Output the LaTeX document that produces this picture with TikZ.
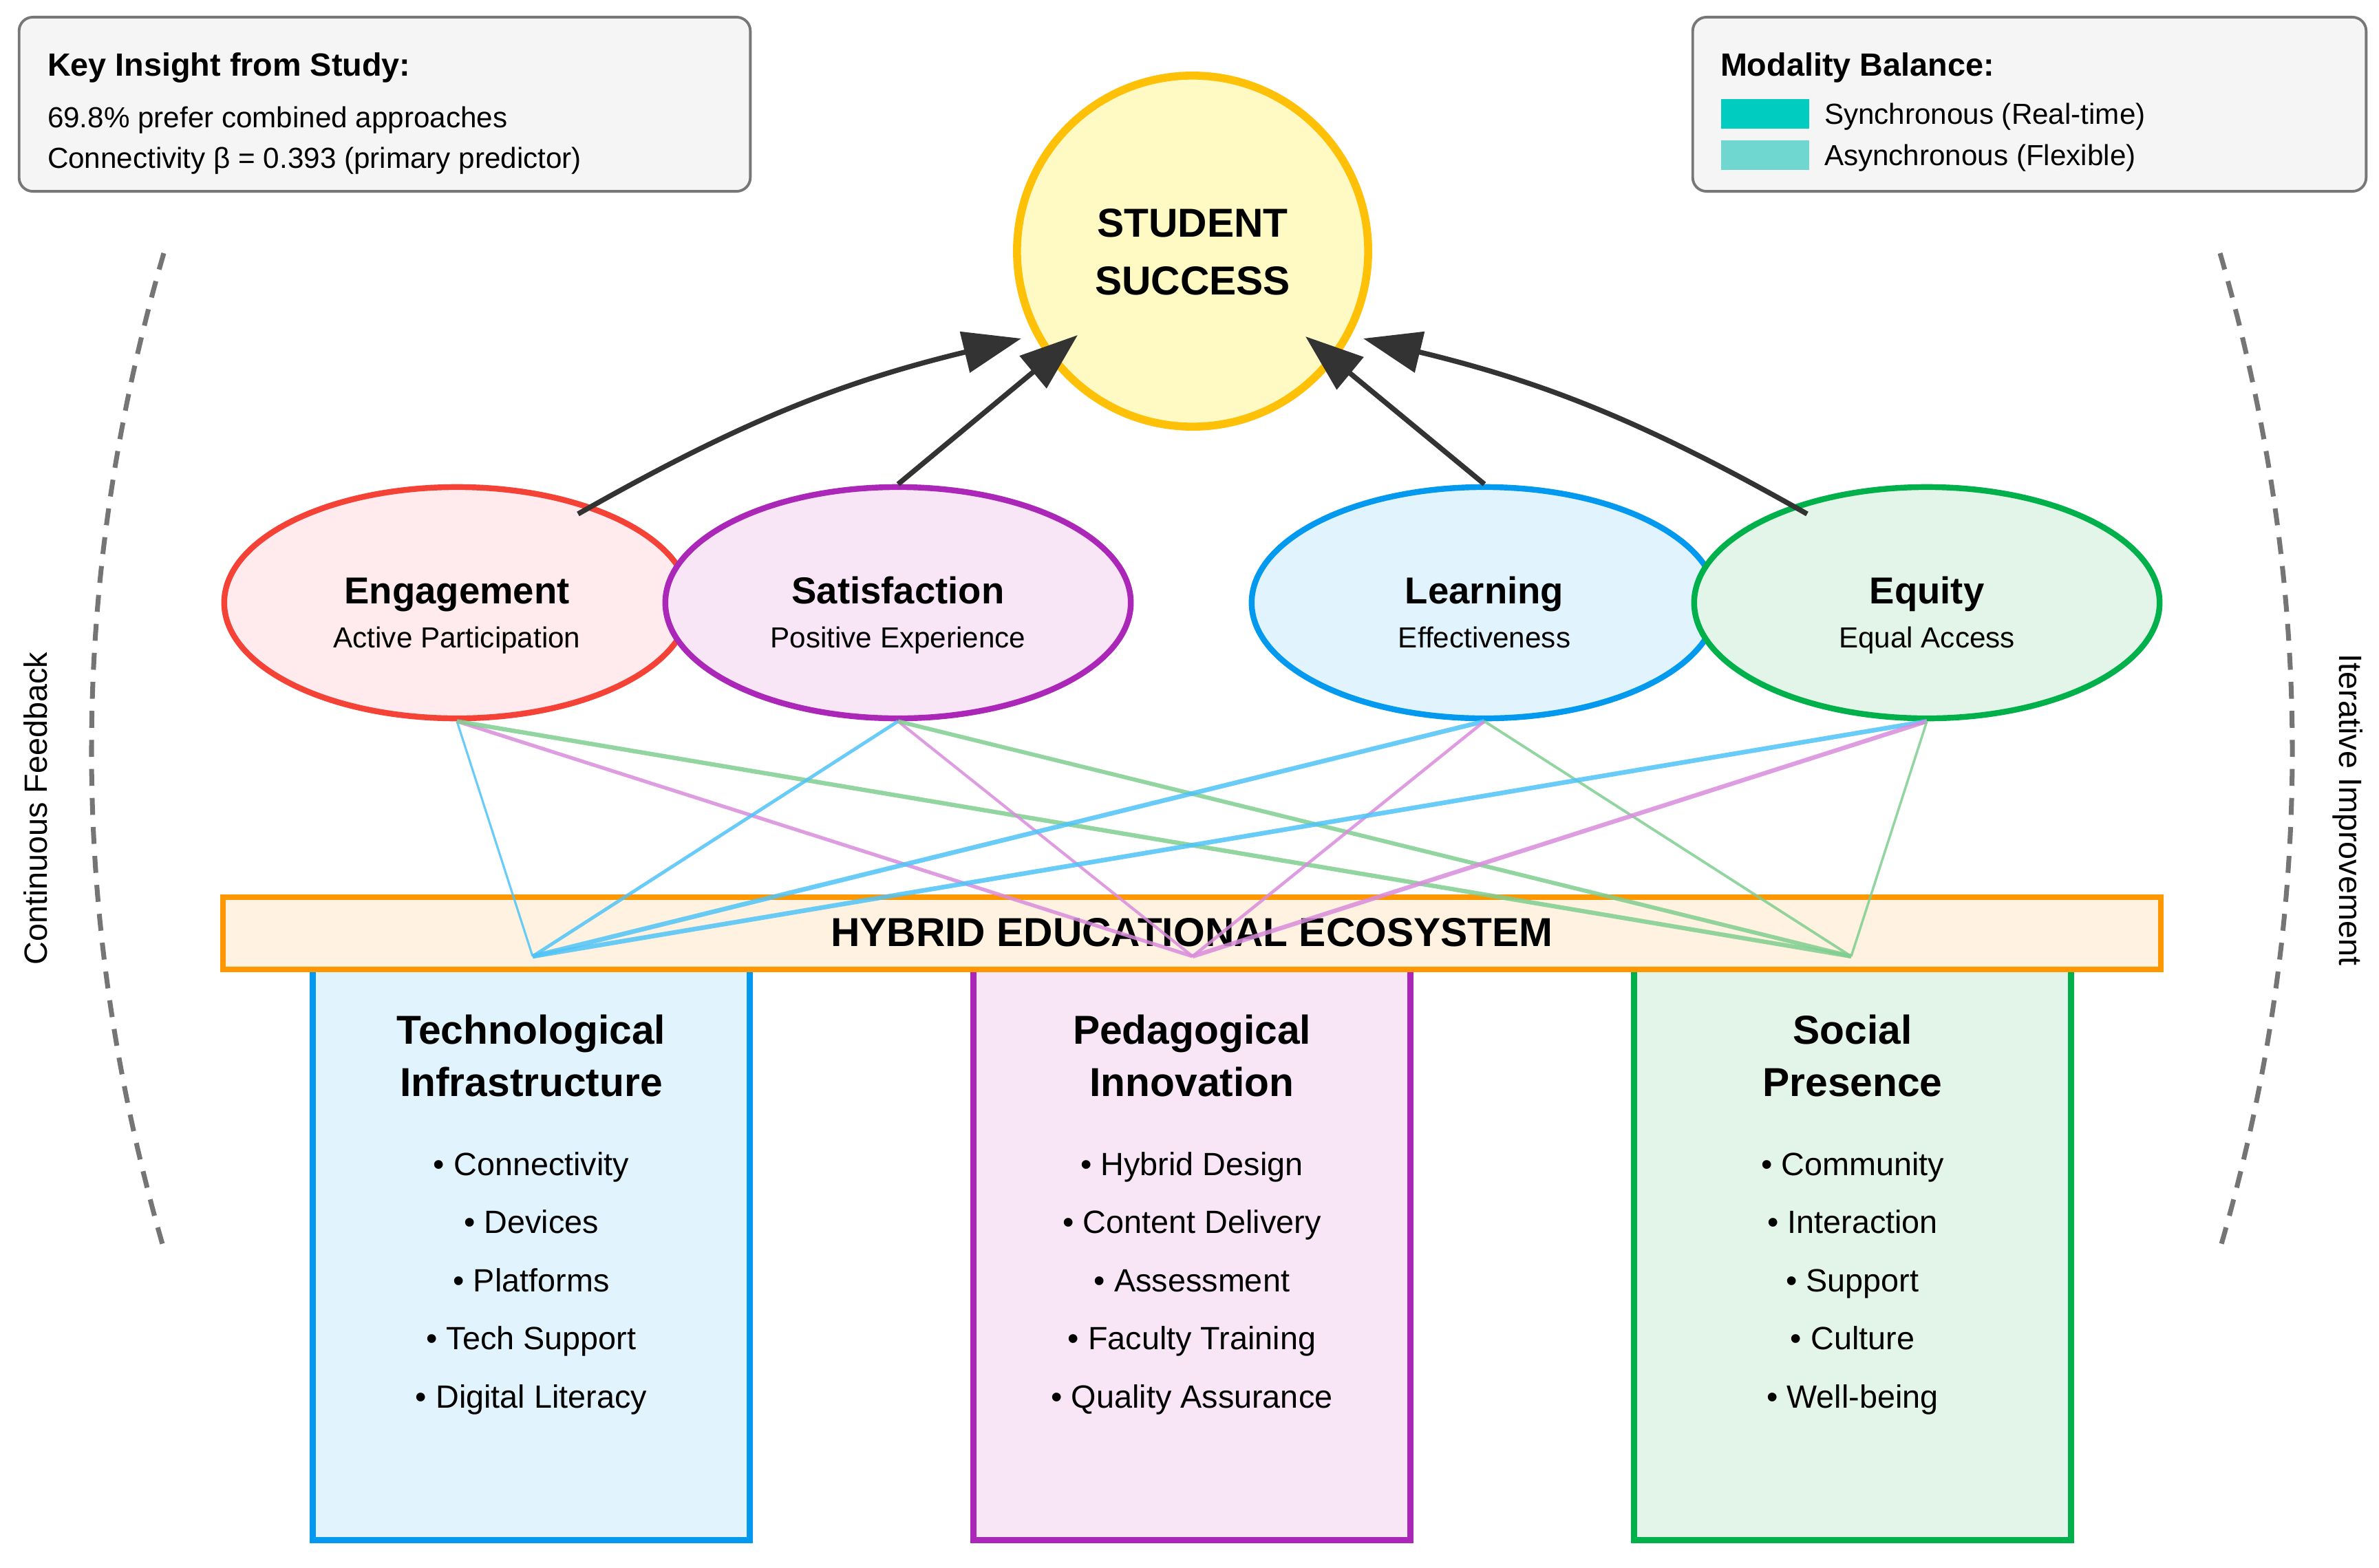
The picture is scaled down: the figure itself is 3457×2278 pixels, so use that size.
\documentclass[tikz,border=0pt]{standalone}
\usepackage{fontspec}
\setmainfont{Liberation Sans}
\usetikzlibrary{arrows.meta,shapes.geometric}
\definecolor{engB}{HTML}{F44336}
\definecolor{engF}{HTML}{FFEBEE}
\definecolor{satB}{HTML}{AB27B8}
\definecolor{satF}{HTML}{F8E6F6}
\definecolor{lrnB}{HTML}{0399EE}
\definecolor{lrnF}{HTML}{E1F3FC}
\definecolor{eqB}{HTML}{00B04A}
\definecolor{eqF}{HTML}{E3F5E8}
\definecolor{ssB}{HTML}{FFC107}
\definecolor{ssF}{HTML}{FFF9C4}
\definecolor{barB}{HTML}{FF9800}
\definecolor{barF}{HTML}{FFF2E0}
\definecolor{lnBlue}{HTML}{4FC3F7}
\definecolor{lnPink}{HTML}{D98BDC}
\definecolor{lnGreen}{HTML}{80CE90}
\definecolor{arr}{HTML}{333333}
\definecolor{boxF}{HTML}{F5F5F5}
\definecolor{boxB}{HTML}{777777}
\definecolor{syncC}{HTML}{00CCC0}
\definecolor{asyncC}{HTML}{70D6D0}
\definecolor{dashc}{HTML}{757575}
\newcommand{\fBig}{\fontsize{16.7pt}{20pt}\selectfont\bfseries}
\newcommand{\fEll}{\fontsize{15.5pt}{18pt}\selectfont\bfseries}
\newcommand{\fMidB}{\fontsize{13.3pt}{16pt}\selectfont\bfseries}
\newcommand{\fMid}{\fontsize{13.3pt}{16pt}\selectfont}
\newcommand{\fBody}{\fontsize{12pt}{14pt}\selectfont}
\begin{document}
\begin{tikzpicture}[x=0.01cm,y=-0.01cm,
  lbl/.style={inner sep=0pt,outer sep=0pt,anchor=base},
  lblw/.style={inner sep=0pt,outer sep=0pt,anchor=base west},
  infobox/.style={draw=boxB,fill=boxF,line width=1.1pt,rounded corners=0.2cm,minimum height=2.53cm,inner sep=0pt},
  outcome/.style={ellipse,minimum width=6.76cm,minimum height=3.36cm,line width=2.4pt,inner sep=0pt},
  pillar/.style={rectangle,minimum width=6.34cm,minimum height=8.58cm,line width=2.5pt,inner sep=0pt},
  link/.style={draw opacity=0.85},
  toT/.style={link,draw=lnBlue}, toP/.style={link,draw=lnPink}, toS/.style={link,draw=lnGreen},
  flow/.style={draw=arr,line width=2.1pt,-{Triangle[length=24pt,width=17pt]}},
  fbarc/.style={draw=dashc,line width=2pt,dash pattern=on 7pt off 5pt},
  swatch/.style={minimum width=1.28cm,minimum height=0.43cm,inner sep=0pt,anchor=north west}
]
\useasboundingbox (0,0) rectangle (3457,2278);
\fill[white] (0,0) rectangle (3457,2278);

% info boxes
\node[infobox,minimum width=10.62cm] (kib) at (559,151.5) {};
\node[lblw] (kit) at (69,110) {\fMidB Key Insight from Study:};
\node[lblw] (ki1) at (69,185) {\fBody 69.8\% prefer combined approaches};
\node[lblw] (ki2) at (69,244) {\fBody Connectivity β = 0.393 (primary predictor)};

\node[infobox,minimum width=9.78cm] (mbb) at (2949,151.5) {};
\node[lblw] (mbt) at (2500,110) {\fMidB Modality Balance:};
\node[swatch,fill=syncC] (sw1) at (2500,143) {};
\node[swatch,fill=asyncC] (sw2) at (2500,203) {};
\node[lblw] (mb1) at (2651,180) {\fBody Synchronous (Real-time)};
\node[lblw] (mb2) at (2651,240) {\fBody Asynchronous (Flexible)};

% side feedback arcs
\coordinate (lt) at (238,368); \coordinate (lb) at (238,1815);
\draw[fbarc] (lt) .. controls (98,851) and (98,1332) .. (lb);
\coordinate (rt) at (3226,368); \coordinate (rb) at (3226,1815);
\draw[fbarc] (rt) .. controls (3366,851) and (3366,1332) .. (rb);
\node[inner sep=0pt,rotate=90] (cf) at (52,1175) {\fMid Continuous Feedback};
\node[inner sep=0pt,rotate=-90] (ii) at (3412,1177) {\fMid Iterative Improvement};

% student success
\node[circle,minimum size=5.1cm,draw=ssB,fill=ssF,line width=3.3pt,inner sep=0pt] (ss) at (1733,365) {};
\node[lbl] (ss1) at (1733,344) {\fBig STUDENT};
\node[lbl] (ss2) at (1733,428) {\fBig SUCCESS};

% outcomes
\node[outcome,draw=engB,fill=engF] (eng) at (664,876) {};
\node[outcome,draw=satB,fill=satF] (sat) at (1305,876) {};
\node[outcome,draw=lrnB,fill=lrnF] (lrn) at (2157,876) {};
\node[outcome,draw=eqB,fill=eqF] (eq) at (2800,876) {};
\node[lbl] (engt) at (664,877) {\fEll Engagement};
\node[lbl] (engs) at (664,941) {\fBody Active Participation};
\node[lbl] (satt) at (1305,877) {\fEll Satisfaction};
\node[lbl] (sats) at (1305,941) {\fBody Positive Experience};
\node[lbl] (lrnt) at (2157,877) {\fEll Learning};
\node[lbl] (lrns) at (2157,941) {\fBody Effectiveness};
\node[lbl] (eqt) at (2800,877) {\fEll Equity};
\node[lbl] (eqs) at (2800,941) {\fBody Equal Access};

% pillars
\node[pillar,draw=lrnB,fill=lrnF] (tech) at (772,1809) {};
\node[pillar,draw=satB,fill=satF] (ped) at (1732,1809) {};
\node[pillar,draw=eqB,fill=eqF] (soc) at (2692,1809) {};
\node[lbl] (techt1) at (772,1517) {\fBig Technological};
\node[lbl] (techt2) at (772,1593) {\fBig Infrastructure};
\node[lbl] (pedt1) at (1732,1517) {\fBig Pedagogical};
\node[lbl] (pedt2) at (1732,1593) {\fBig Innovation};
\node[lbl] (soct1) at (2692,1517) {\fBig Social};
\node[lbl] (soct2) at (2692,1593) {\fBig Presence};
\foreach \itm [count=\i] in {Connectivity,Devices,Platforms,Tech Support,Digital Literacy}
  \node[lbl] (techb\i) at (772,{1708+84.5*(\i-1)}) {\fMid • \itm};
\foreach \itm [count=\i] in {Hybrid Design,Content Delivery,Assessment,Faculty Training,Quality Assurance}
  \node[lbl] (pedb\i) at (1732,{1708+84.5*(\i-1)}) {\fMid • \itm};
\foreach \itm [count=\i] in {Community,Interaction,Support,Culture,Well-being}
  \node[lbl] (socb\i) at (2692,{1708+84.5*(\i-1)}) {\fMid • \itm};

% hybrid bar
\node[draw=barB,fill=barF,line width=2.37pt,minimum width=28.14cm,minimum height=1.05cm,inner sep=0pt] (bar) at (1732,1356.5) {};
\node[lbl] (bart) at (1732,1375) {\fBig HYBRID EDUCATIONAL ECOSYSTEM};

% links
\coordinate (pT) at (774,1390);
\coordinate (pP) at (1733,1390);
\coordinate (pS) at (2690,1390);
\draw[toT,line width=0.9pt] (eng.south) -- (pT);
\draw[toP,line width=1.5pt] (eng.south) -- (pP);
\draw[toS,line width=1.8pt] (eng.south) -- (pS);
\draw[toT,line width=1.4pt] (sat.south) -- (pT);
\draw[toP,line width=1.2pt] (sat.south) -- (pP);
\draw[toS,line width=1.7pt] (sat.south) -- (pS);
\draw[toT,line width=1.9pt] (lrn.south) -- (pT);
\draw[toP,line width=1.3pt] (lrn.south) -- (pP);
\draw[toS,line width=1.1pt] (lrn.south) -- (pS);
\draw[toT,line width=1.9pt] (eq.south) -- (pT);
\draw[toP,line width=1.8pt] (eq.south) -- (pP);
\draw[toS,line width=1.0pt] (eq.south) -- (pS);

% arrows to success
\coordinate (engA) at (840,747);
\coordinate (eqA) at (2626,747);
\coordinate (tip1) at (1484,492);
\coordinate (tip2) at (1566,487);
\coordinate (tip3) at (1897,489);
\coordinate (tip4) at (1981,492);
\draw[flow] (engA) to[bend left=8] (tip1);
\draw[flow] (sat.north) -- (tip2);
\draw[flow] (lrn.north) -- (tip3);
\draw[flow] (eqA) to[bend right=8] (tip4);
\end{tikzpicture}
\end{document}
